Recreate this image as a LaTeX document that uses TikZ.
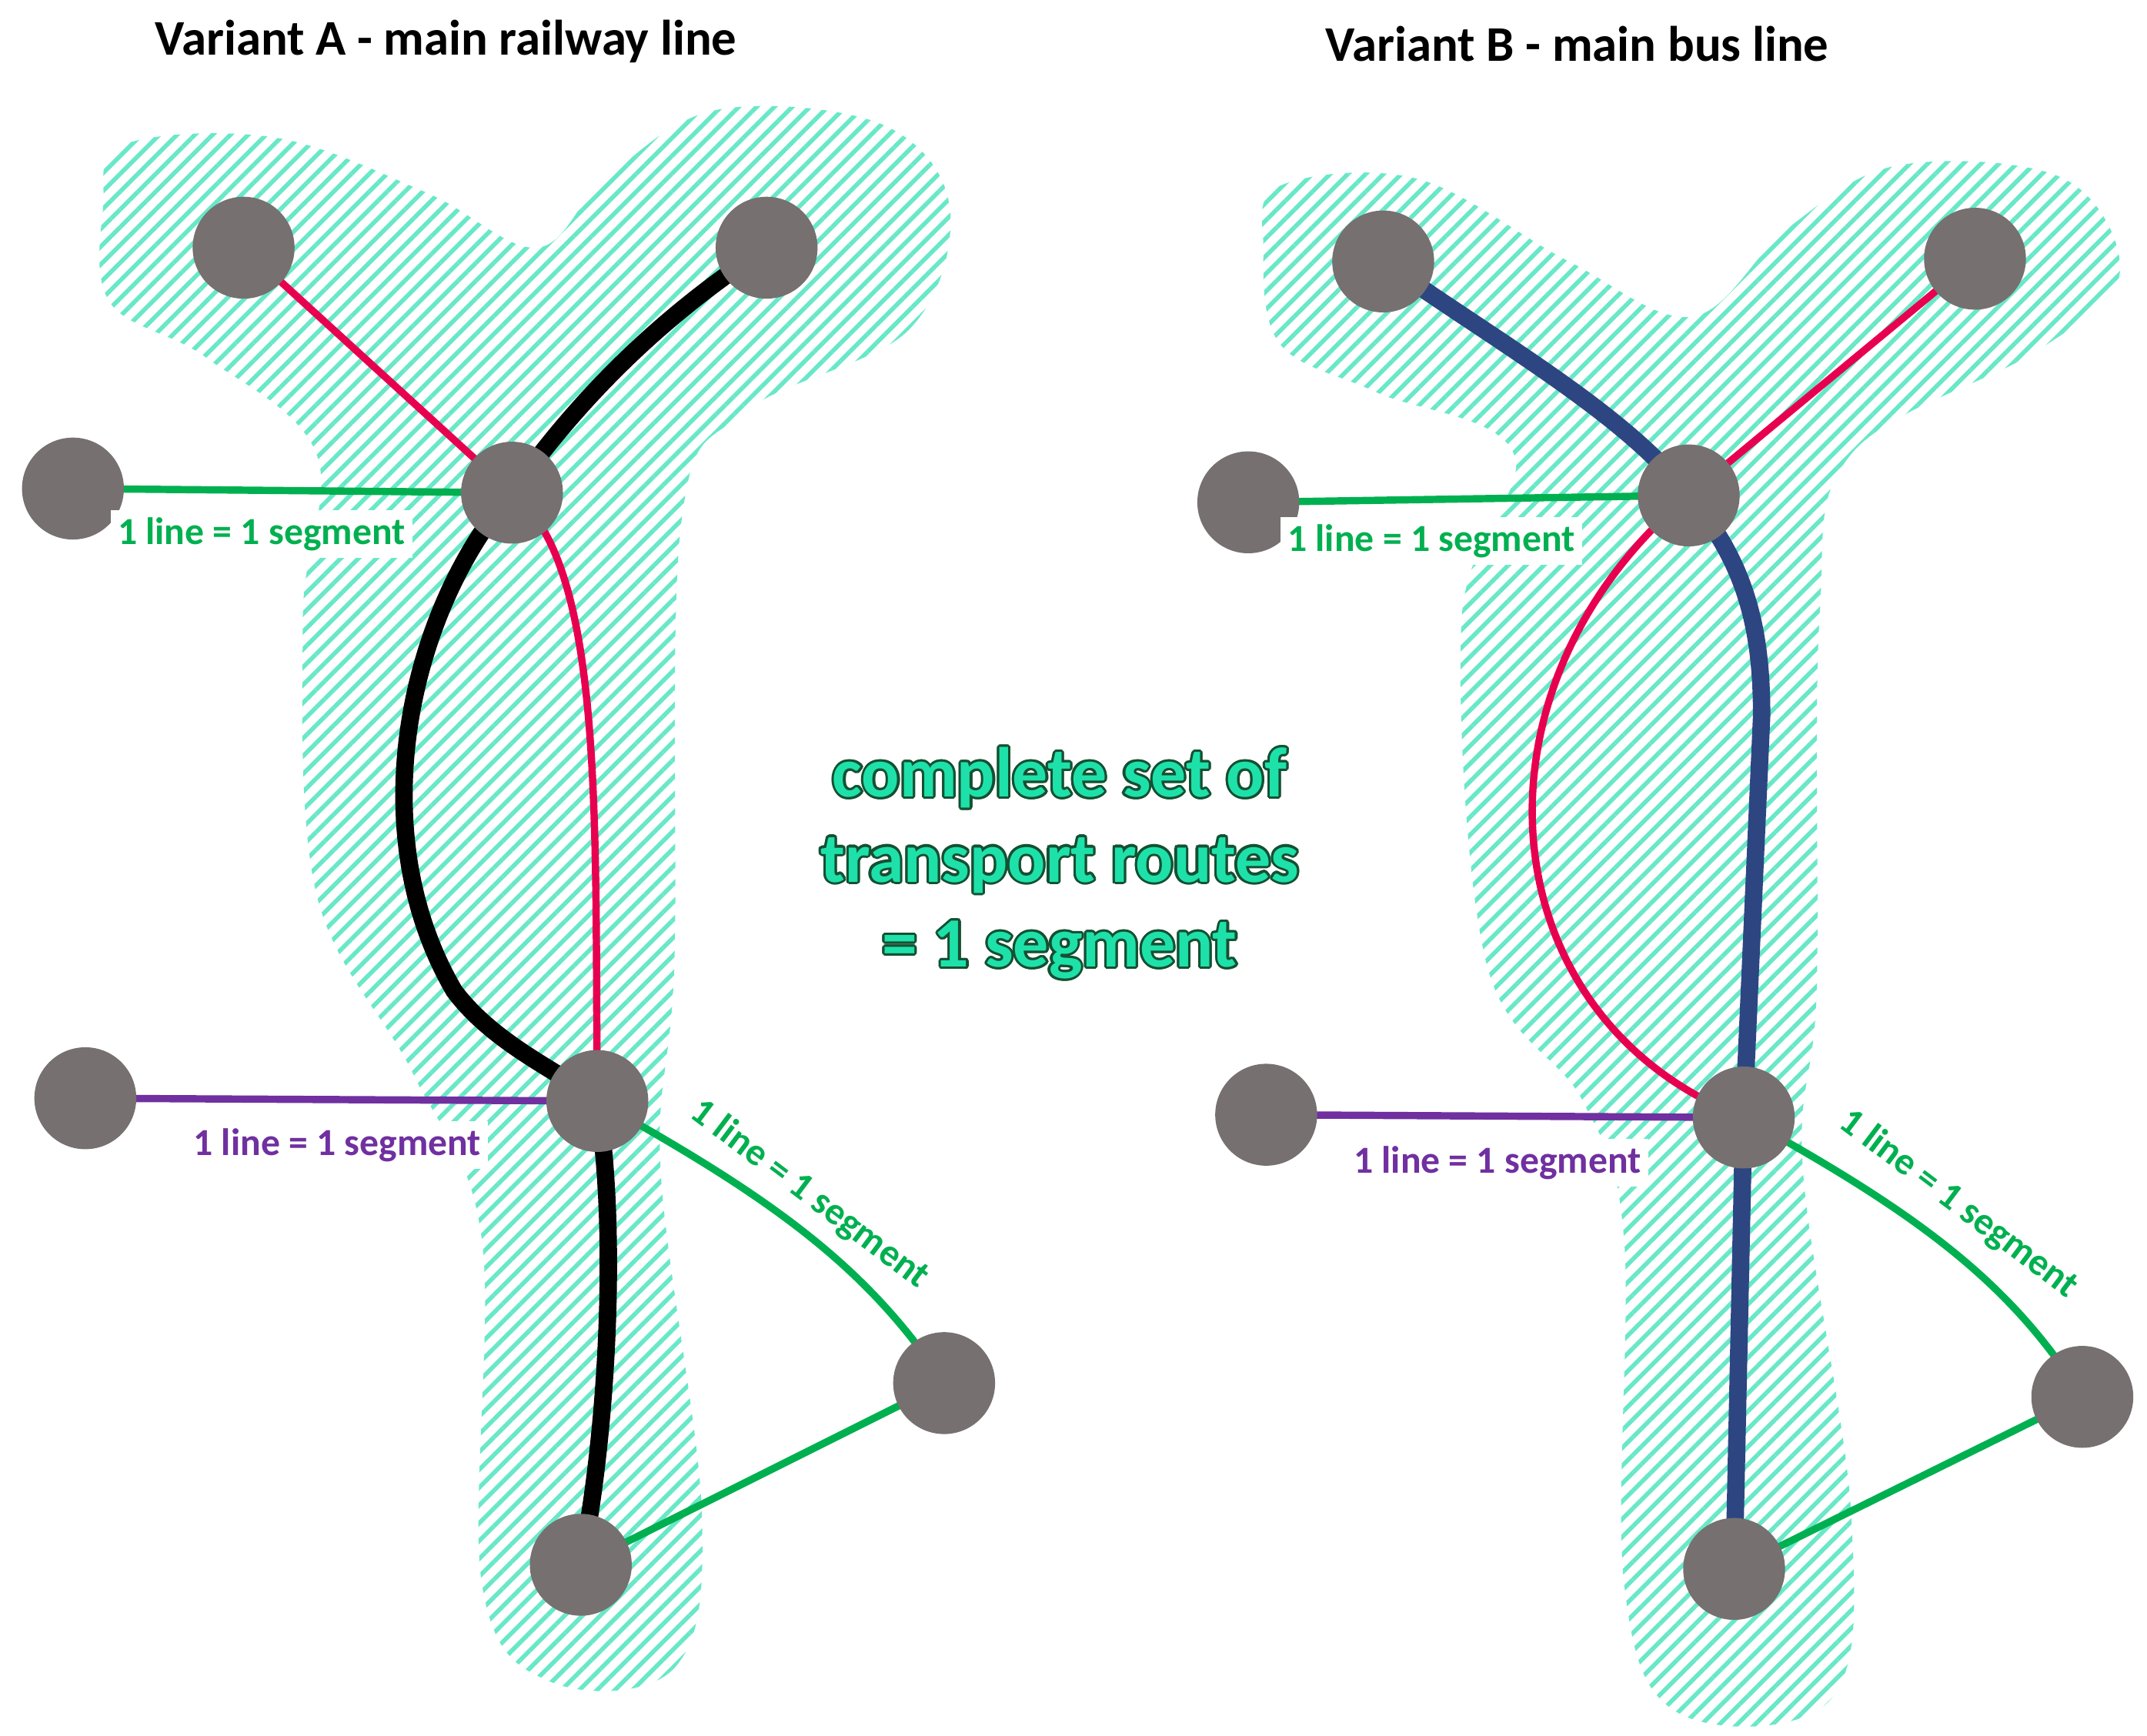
\documentclass[tikz,border=0pt]{standalone}
\usepackage{fontspec}
\setmainfont{Carlito}
\usepackage{contour}
\usetikzlibrary{patterns.meta}
\definecolor{hatch}{RGB}{105,232,200}
\definecolor{stn}{RGB}{118,112,112}
\definecolor{grn}{RGB}{0,176,80}
\definecolor{pur}{RGB}{112,48,160}
\definecolor{pnk}{RGB}{232,0,80}
\definecolor{nav}{RGB}{45,70,130}
\definecolor{tq}{RGB}{30,225,170}
\definecolor{tqd}{RGB}{20,80,50}
\pgfdeclarelayer{back}\pgfdeclarelayer{mid}
\pgfsetlayers{back,mid,main}
\contourlength{0.5pt}
\begin{document}
\begin{tikzpicture}[x=0.01cm,y=-0.01cm,
 stn/.style={circle,fill=stn,minimum size=0.74cm,inner sep=0pt},
 hz/.style={pattern={Lines[angle=45,distance=2.6pt,line width=0.9pt]},pattern color=hatch},
 thin/.style={line width=1.5pt},
 rail/.style={line width=3.6pt,black},
 bus/.style={line width=3.6pt,nav},
 lab/.style={font=\bfseries\fontsize{7.9}{9}\selectfont,fill=white,inner sep=1.5pt},
 ttl/.style={font=\bfseries\fontsize{10.3}{12}\selectfont}]
\useasboundingbox (0,0) rectangle (1560,1261);
\node[ttl] (tA) at (324,30) {Variant A - main railway line};
\node[ttl] (tB) at (1146,32) {Variant B - main bus line};
\node[stn] (A1) at (177,180) {}; \node[stn] (A2) at (557,180) {};
\node[stn] (A3) at (53,355) {};  \node[stn] (A4) at (372,358) {};
\node[stn] (A5) at (62,798) {};  \node[stn] (A6) at (434,800) {};
\node[stn] (A7) at (686,1005) {}; \node[stn] (A8) at (422,1137) {};
\node[stn] (B1) at (1005,190) {}; \node[stn] (B2) at (1435,188) {};
\node[stn] (B3) at (907,365) {};  \node[stn] (B4) at (1227,360) {};
\node[stn] (B5) at (920,810) {};  \node[stn] (B6) at (1267,812) {};
\node[stn] (B7) at (1513,1015) {}; \node[stn] (B8) at (1260,1140) {};
\node[font=\bfseries\fontsize{14.6}{17.6}\selectfont,align=center] (ctr) at (770,628)
 {\contour{tqd}{\textcolor{tq}{complete set of}}\\\contour{tqd}{\textcolor{tq}{transport routes}}\\\contour{tqd}{\textcolor{tq}{= 1 segment}}};
\begin{pgfonlayer}{back}
\fill[hz] plot[smooth cycle,tension=0.6] coordinates {(90,105)(200,100)(310,140)(390,180)(440,130)(520,80)(640,90)(690,150)(660,240)(540,300)(495,380)(490,700)(480,850)(510,1100)(490,1212)(400,1222)(350,1150)(350,900)(300,780)(230,650)(220,450)(230,330)(150,260)(80,220)(75,150)};
\fill[hz] plot[smooth cycle,tension=0.6] coordinates {(930,135)(1030,130)(1140,190)(1230,230)(1300,165)(1380,120)(1500,130)(1540,200)(1480,255)(1345,330)(1322,450)(1320,720)(1310,850)(1345,1100)(1330,1235)(1220,1245)(1180,1150)(1180,900)(1150,800)(1080,700)(1062,450)(1100,330)(1000,285)(930,250)(918,180)};
\end{pgfonlayer}
\begin{pgfonlayer}{mid}
% Variant A
\draw[thin,pnk] (A1.center) -- (A4.center);
\draw[thin,pnk] (A4.center) .. controls (440,410) and (432,600) .. (A6.center);
\draw[rail] (A2.center) .. controls (480,230) and (420,290) .. (A4.center) .. controls (300,440) and (260,600) .. (330,720) .. controls (360,760) and (410,780) .. (A6.center) .. controls (450,900) and (440,1050) .. (A8.center);
\draw[thin,grn] (A3.center) -- (A4.center);
\draw[thin,pur] (A5.center) -- (A6.center);
\draw[thin,grn] (A6.center) .. controls (560,870) and (630,920) .. (A7.center);
\draw[thin,grn] (A7.center) -- (A8.center);
% Variant B
\draw[bus] (B1.center) .. controls (1090,250) and (1180,300) .. (B4.center) .. controls (1270,410) and (1280,460) .. (1280,520) -- (B6.center) -- (B8.center);
\draw[thin,pnk] (B2.center) -- (B4.center);
\draw[thin,pnk] (B4.center) .. controls (1060,500) and (1080,740) .. (B6.center);
\draw[thin,grn] (B3.center) -- (B4.center);
\draw[thin,pur] (B5.center) -- (B6.center);
\draw[thin,grn] (B6.center) .. controls (1390,880) and (1460,930) .. (B7.center);
\draw[thin,grn] (B7.center) -- (B8.center);
\end{pgfonlayer}
\node[lab,text=grn] (l1) at (190,388) {1 line = 1 segment};
\node[lab,text=pur] (l2) at (245,832) {1 line = 1 segment};
\node[lab,text=grn,fill=none,rotate=-37] (l3) at (588,868) {1 line = 1 segment};
\node[lab,text=grn] (l4) at (1040,393) {1 line = 1 segment};
\node[lab,text=pur] (l5) at (1088,845) {1 line = 1 segment};
\node[lab,text=grn,fill=none,rotate=-37] (l6) at (1423,875) {1 line = 1 segment};
\end{tikzpicture}
\end{document}
